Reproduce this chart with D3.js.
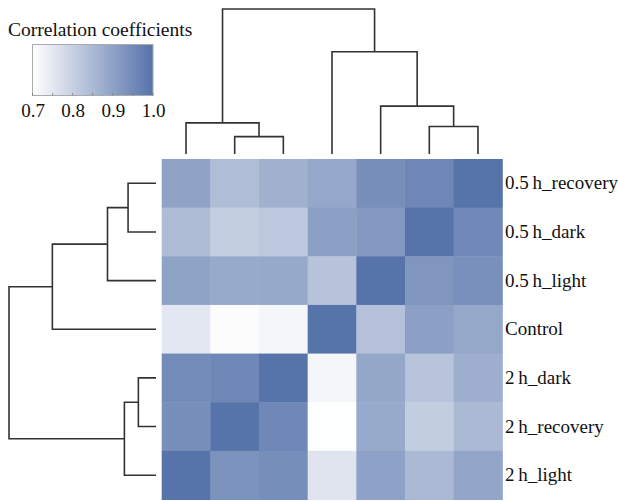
<!DOCTYPE html>
<html lang="en">
  <head>
    <meta charset="utf-8">
    <script src="https://cdn.jsdelivr.net/npm/d3@7/dist/d3.min.js"></script>
    <style>
      body { margin: 0; background: #fff; }
    </style>
  </head>
  <body>
    <script type="text/javascript">

      // Data
      var rowLabels = ["0.5\u2009h_recovery", "0.5\u2009h_dark", "0.5\u2009h_light", "Control",
                       "2\u2009h_dark", "2\u2009h_recovery", "2\u2009h_light"];
      var colLabels = rowLabels.slice().reverse();

      // correlation values, rows in rowLabels order, columns in colLabels order
      var corr = [
        [0.897, 0.841, 0.868, 0.888, 0.939, 0.958, 1.000],
        [0.844, 0.805, 0.817, 0.904, 0.918, 1.000, 0.952],
        [0.898, 0.883, 0.885, 0.829, 1.000, 0.925, 0.937],
        [0.751, 0.706, 0.720, 1.000, 0.832, 0.904, 0.886],
        [0.949, 0.958, 1.000, 0.720, 0.889, 0.826, 0.874],
        [0.939, 1.000, 0.955, 0.703, 0.883, 0.808, 0.850],
        [1.000, 0.934, 0.943, 0.757, 0.901, 0.850, 0.892]
      ];

      // cluster tree (same for rows and columns), leaves are labels, h = merge height
      var tree = {h: 1.0, children: [
        {h: 0.705, children: [
          {h: 0.33, children: [
            {h: 0.19, children: [{name: "0.5\u2009h_recovery"}, {name: "0.5\u2009h_dark"}]},
            {name: "0.5\u2009h_light"}
          ]},
          {name: "Control"}
        ]},
        {h: 0.215, children: [
          {h: 0.12, children: [{name: "2\u2009h_dark"}, {name: "2\u2009h_recovery"}]},
          {name: "2\u2009h_light"}
        ]}
      ]};

      var legendTicks = [0.7, 0.8, 0.9, 1.0];
      var legendMinor = [0.7, 0.75, 0.8, 0.85, 0.9, 0.95, 1.0];

      var serif = "'Liberation Serif', 'DejaVu Serif', 'Times New Roman', Times, serif";

      // Visuals
      var svgWidth = 618;
      var svgHeight = 501;

      var svg = d3.select("body")
        .append("svg")
        .attr("width", svgWidth)
        .attr("height", svgHeight);

      var x = d3.scaleBand().domain(colLabels).range([161.7, 502.3]);
      var y = d3.scaleBand().domain(rowLabels).range([159, 499.5]);
      var color = d3.scaleLinear().domain([0.7, 1.0]).range(["#ffffff", "#5673aa"]).clamp(true);

      // heatmap cells
      var cells = [];
      corr.forEach(function(row, i) {
        row.forEach(function(v, j) {
          cells.push({r: rowLabels[i], c: colLabels[j], v: v});
        });
      });

      svg.append("g").selectAll("rect")
        .data(cells)
        .enter().append("rect")
        .attr("x", function(d) { return x(d.c); })
        .attr("y", function(d) { return y(d.r); })
        .attr("width", x.bandwidth() + 0.5)
        .attr("height", y.bandwidth() + 0.5)
        .attr("fill", function(d) { return color(d.v); });

      // row labels
      svg.append("g").selectAll("text")
        .data(rowLabels)
        .enter().append("text")
        .attr("x", 505)
        .attr("y", function(d) { return y(d) + y.bandwidth() / 2 + 6; })
        .style("font-family", serif)
        .style("font-size", "19px")
        .attr("fill", "#111")
        .text(function(d) { return d; });

      // dendrograms
      function layout(node, pos) {
        if (!node.children) {
          node.p = pos(node.name);
          node.h = 0;
        } else {
          node.children.forEach(function(c) { layout(c, pos); });
          node.p = (node.children[0].p + node.children[1].p) / 2;
        }
        return node;
      }

      function drawTree(root, hScale, vertical) {
        var g = svg.append("g")
          .attr("fill", "none")
          .attr("stroke", "#333")
          .attr("stroke-width", 1.6);
        var nodes = d3.hierarchy(root).descendants().filter(function(n) { return n.children; });
        nodes.forEach(function(n) {
          var a = n.data.children[0], b = n.data.children[1];
          var h = hScale(n.data.h);
          var pts = [[a.p, hScale(a.h)], [a.p, h], [b.p, h], [b.p, hScale(b.h)]];
          if (!vertical) pts = pts.map(function(q) { return [q[1], q[0]]; });
          g.append("path").attr("d", d3.line()(pts));
        });
      }

      var colTree = layout(JSON.parse(JSON.stringify(tree)), function(n) { return x(n) + x.bandwidth() / 2; });
      drawTree(colTree, d3.scaleLinear().domain([0, 1]).range([154, 9]), true);

      var rowTree = layout(JSON.parse(JSON.stringify(tree)), function(n) { return y(n) + y.bandwidth() / 2; });
      drawTree(rowTree, d3.scaleLinear().domain([0, 1]).range([156, 9]), false);

      // legend
      svg.append("text")
        .attr("x", 8)
        .attr("y", 36)
        .style("font-family", serif)
        .style("font-size", "19.5px")
        .attr("fill", "#111")
        .text("Correlation coefficients");

      var lx = d3.scaleLinear().domain([0.7, 1.0]).range([32.5, 153]);
      var grad = svg.append("defs").append("linearGradient").attr("id", "lg");
      grad.selectAll("stop")
        .data(legendMinor)
        .enter().append("stop")
        .attr("offset", function(d) { return (d - 0.7) / 0.3; })
        .attr("stop-color", function(d) { return color(d); });

      svg.append("rect")
        .attr("x", lx(0.7))
        .attr("y", 44.5)
        .attr("width", lx(1.0) - lx(0.7))
        .attr("height", 51)
        .attr("fill", "url(#lg)")
        .attr("stroke", "#aaa")
        .attr("stroke-width", 1);

      var axis = d3.axisBottom(lx).tickValues(legendTicks).tickFormat(d3.format(".1f")).tickSize(0).tickPadding(5);
      var ag = svg.append("g").attr("transform", "translate(0,95.5)").call(axis);
      ag.select(".domain").remove();
      ag.selectAll("text")
        .style("font-family", serif)
        .style("font-size", "19px")
        .attr("fill", "#111")
        .attr("dy", "0.85em");

      svg.append("g").selectAll("line")
        .data(legendMinor)
        .enter().append("line")
        .attr("x1", function(d) { return lx(d); })
        .attr("x2", function(d) { return lx(d); })
        .attr("y1", 95.5)
        .attr("y2", 93)
        .attr("stroke", "#777")
        .attr("stroke-width", 0.8);

    </script>
  </body>
</html>
